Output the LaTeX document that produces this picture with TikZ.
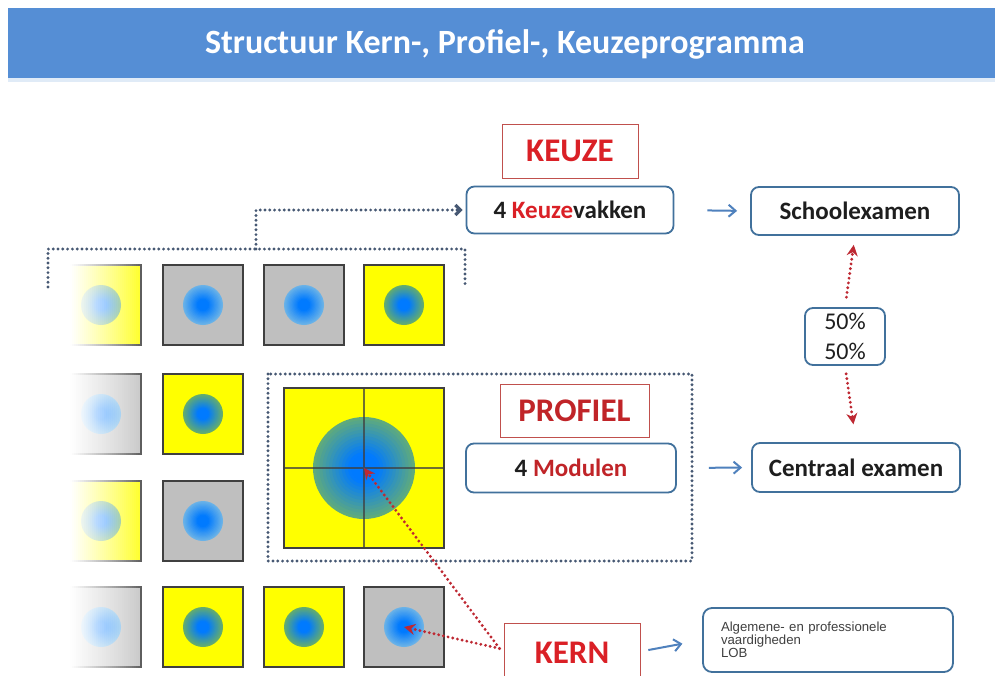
\documentclass[tikz,border=0pt]{standalone}
\usepackage{fontspec}
\setmainfont{Carlito}
\newfontfamily\arialf{Liberation Sans}
\usetikzlibrary{arrows.meta}
\definecolor{hdr}{RGB}{85,142,213}
\definecolor{bbord}{RGB}{65,113,156}
\definecolor{barr}{RGB}{79,129,189}
\definecolor{rbord}{RGB}{192,80,77}
\definecolor{rtext}{RGB}{218,32,38}
\definecolor{rdark}{RGB}{192,36,40}
\definecolor{rdot}{RGB}{190,40,50}
\definecolor{slate}{RGB}{70,88,115}
\definecolor{sqy}{RGB}{255,255,0}
\definecolor{sqg}{RGB}{191,191,191}
\definecolor{sqb}{RGB}{64,64,64}
\definecolor{bcore}{RGB}{0,122,255}
\definecolor{edgey}{RGB}{100,172,110}
\definecolor{edgeg}{RGB}{105,178,232}
\definecolor{edgebig}{RGB}{95,170,125}
\definecolor{txt}{RGB}{30,30,30}
\newcommand\myball[3]{%
  \foreach \k in {0,...,15}{%
    \pgfmathsetmacro\rr{#2*(1-\k/16)}%
    \pgfmathsetmacro\pp{min(100,\k/16/0.7*100)}%
    \fill[bcore!\pp!#3] (#1) circle[radius=\rr pt];
  }}
\tikzset{
  sqnode/.style={draw=sqb, line width=1.3pt, minimum size=80pt, inner sep=0pt},
  rbox/.style={draw=bbord, line width=1.8pt, rounded corners=8pt, fill=white, inner sep=0pt, text=txt,
    font=\fontsize{25}{29}\selectfont\bfseries},
  lbl/.style={draw=rbord, line width=0.9pt, fill=white, text=rtext, inner sep=0pt,
    font=\fontsize{33}{36}\selectfont\bfseries},
  barrow/.style={draw=barr, line width=2pt, -{Straight Barb[length=7pt,width=12pt]}},
  rdots/.style={draw=rdot, line width=3.2pt, line cap=round, dash pattern=on 0pt off 4.8pt,
    -{Stealth[length=11pt,width=11pt]}},
  sdots/.style={draw=slate, line width=3.2pt, line cap=round, dash pattern=on 0pt off 4.8pt}
}
\begin{document}
\begin{tikzpicture}[x=1pt,y=-1pt]
\useasboundingbox (0,0) rectangle (995,675);
\clip (0,0) rectangle (995,675);
\fill[white] (0,0) rectangle (995,675);
% header
\fill[hdr!18] (8,78) rectangle (995,82);
\fill[hdr] (8,8) rectangle (995,78);
\node[text=white, font=\fontsize{34}{40}\selectfont\bfseries] (title) at (505,44) {Structuur Kern-, Profiel-, Keuzeprogramma};
% squares
\node[sqnode, fill=sqy] (s11) at (101,305) {};
\node[sqnode, fill=sqg] (s12) at (203,305) {};
\node[sqnode, fill=sqg] (s13) at (304,305) {};
\node[sqnode, fill=sqy] (s14) at (404,305) {};
\node[sqnode, fill=sqg] (s21) at (101,414) {};
\node[sqnode, fill=sqy] (s22) at (203,414) {};
\node[sqnode, fill=sqy] (s31) at (101,521) {};
\node[sqnode, fill=sqg] (s32) at (203,521) {};
\node[sqnode, fill=sqg] (s41) at (101,627) {};
\node[sqnode, fill=sqy] (s42) at (203,627) {};
\node[sqnode, fill=sqy] (s43) at (304,627) {};
\node[sqnode, fill=sqg] (s44) at (404,627) {};
\node[sqnode, fill=sqy, minimum size=160pt] (big) at (364,468) {};
\myball{s11}{20}{edgey}
\myball{s12}{20}{edgeg}
\myball{s13}{20}{edgeg}
\myball{s14}{20}{edgey}
\myball{s21}{20}{edgeg}
\myball{s22}{20}{edgey}
\myball{s31}{20}{edgey}
\myball{s32}{20}{edgeg}
\myball{s41}{20}{edgeg}
\myball{s42}{20}{edgey}
\myball{s43}{20}{edgey}
\myball{s44}{20}{edgeg}
\myball{big}{51}{edgebig}
\draw[sqb, line width=1.2pt, opacity=0.75] (big.north) -- (big.south) (big.west) -- (big.east);
% fade of left column
\foreach \i in {0,...,44}{%
  \pgfmathsetmacro\op{min(1,(1-\i/45)*1.15)^0.8}%
  \fill[white, opacity=\op] (58+2*\i,255) rectangle (60+2*\i,675);
}
% boxes
\node[lbl, minimum width=136pt, minimum height=54pt] (keuze) at (570,151) {KEUZE};
\node[rbox, minimum width=207pt, minimum height=47pt] (kv) at (570,210) {4 \textcolor{rtext}{Keuze}vakken};
\node[rbox, minimum width=208pt, minimum height=48pt] (se) at (855,211) {Schoolexamen};
\node[rbox, minimum width=80pt, minimum height=57pt, align=center, font=\fontsize{24}{30}\selectfont] (pct) at (845,336.5) {50\%\\50\%};
\node[rbox, minimum width=208pt, minimum height=49pt] (ce) at (856,467.5) {Centraal examen};
\node[lbl, minimum width=149pt, minimum height=53pt, text=rdark] (profiel) at (574.5,410.5) {PROFIEL};
\node[rbox, minimum width=210pt, minimum height=49pt] (mod) at (571,468) {4 \textcolor{rdark}{Modulen}};
\node[lbl, minimum width=136pt, minimum height=57pt, text depth=0pt] (kern) at (572,651.5) {\raisebox{-3pt}{KERN}};
\node[draw=bbord, line width=1.8pt, rounded corners=9pt, fill=white, minimum width=250pt, minimum height=64pt,
  inner sep=0pt, text width=214pt, align=left, text=txt!85,
  font=\arialf\fontsize{13.2}{12.8}\selectfont] (alg) at (828,640) {Algemene- en professionele\\vaardigheden\\LOB};
% dotted structures
\coordinate (bl) at (48,287);
\coordinate (blt) at (48,249);
\coordinate (brt) at (465,249);
\coordinate (br) at (465,287);
\coordinate (bm) at (256,249);
\draw[sdots] (bl) -- (blt) -- (brt) -- (br);
\draw[sdots, shorten >=3pt, -{Straight Barb[length=5pt,width=10pt]}] (bm) |- (kv.west);
\coordinate (pa) at (268,374);
\coordinate (pb) at (692,561);
\draw[sdots] (pa) rectangle (pb);
% blue arrows
\draw[barrow, shorten <=33pt, shorten >=13pt] (kv.east) -- (se.west);
\draw[barrow, shorten <=32pt, shorten >=9pt] (mod.east) -- (ce.west);
\draw[barrow, shorten <=8pt, shorten >=20pt] (kern.east) -- (alg.west);
% red dotted arrows
\draw[rdots, shorten <=10pt, shorten >=9pt] (pct.north) -- (se.south);
\draw[rdots, shorten <=8pt, shorten >=18pt] (pct.south) -- (ce.north);
\coordinate (kl) at ([xshift=-4pt,yshift=3pt]kern.west);
\draw[rdots] (kl) -- (big.center);
\draw[rdots] (kl) -- (s44.center);
\end{tikzpicture}
\end{document}
